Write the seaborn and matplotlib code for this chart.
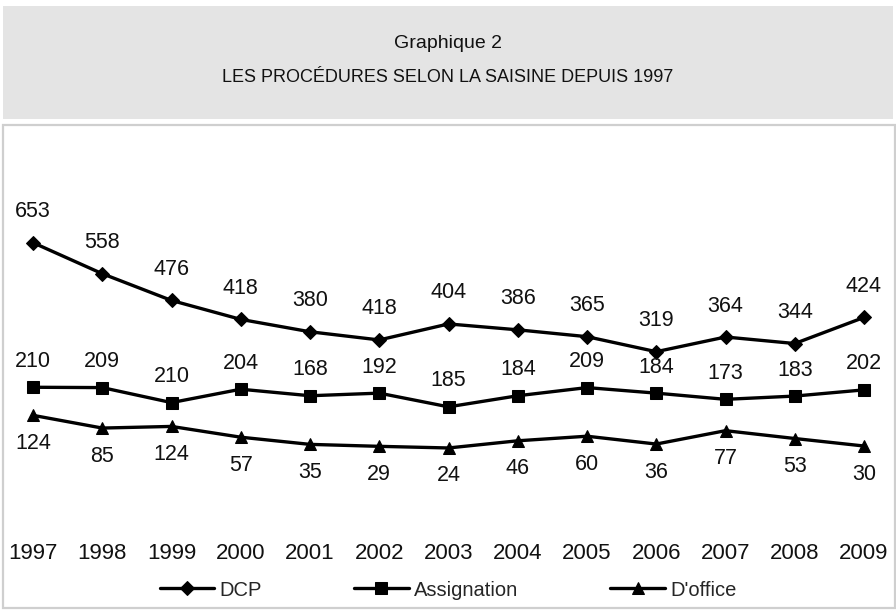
import matplotlib
matplotlib.use("Agg")
import matplotlib.pyplot as plt
from matplotlib.patches import Rectangle
import seaborn as sns
import pandas as pd

# Data
years = [1997, 1998, 1999, 2000, 2001, 2002, 2003, 2004, 2005, 2006, 2007, 2008, 2009]
# plotted positions (as drawn in the original)
dcp = [653, 558, 476, 418, 380, 355, 404, 386, 365, 319, 364, 344, 424]
assignation = [210, 209, 163, 204, 184, 192, 150, 184, 209, 192, 173, 183, 202]
doffice = [124, 85, 90, 57, 35, 29, 24, 46, 60, 36, 77, 53, 30]
# data labels as printed
dcp_labels = ["653", "558", "476", "418", "380", "418", "404", "386", "365", "319", "364", "344", "424"]
assignation_labels = ["210", "209", "210", "204", "168", "192", "185", "184", "209", "184", "173", "183", "202"]
doffice_labels = ["124", "85", "124", "57", "35", "29", "24", "46", "60", "36", "77", "53", "30"]

title_1 = "Graphique 2"
title_2 = "LES PROCÉDURES SELON LA SAISINE DEPUIS 1997"

sns.set_style("white")
plt.rcParams['font.family'] = ['Liberation Sans', 'DejaVu Sans']

W, H = 896, 610
fig = plt.figure(figsize=(W / 100, H / 100), dpi=100)

# grey header box
fig.add_artist(Rectangle((3 / W, 1 - 119 / H), 890 / W, 113 / H, zorder=-5,
                         transform=fig.transFigure, facecolor='#e4e4e4', edgecolor='none'))
# chart frame
fig.add_artist(Rectangle((3 / W, 1 - 608 / H), 892 / W, 483 / H, zorder=-5,
                         transform=fig.transFigure, facecolor='white', edgecolor='#cfcfcf', linewidth=1.6))

fig.text(0.5, 1 - 44 / H, title_1, ha='center', va='center', fontsize=14, color='#111111')
fig.text(0.5, 1 - 77 / H, title_2, ha='center', va='center', fontsize=13, color='#111111')

# axes placed so that 0 sits at y=456px and 1997..2009 span 33..864px
step = 69.25
left_px = 33 - 0.45 * step
ax = fig.add_axes([left_px / W, 1 - 455.8 / H, 12.9 * step / W, (700 / 3.064) / H])
ax.patch.set_alpha(0)

df = pd.DataFrame({'year': years, 'DCP': dcp, 'Assignation': assignation, "D'office": doffice})

sns.lineplot(data=df, x='year', y='DCP', ax=ax, color='black', linewidth=2.4,
             marker='D', markersize=7, markeredgecolor='black', label='DCP')
sns.lineplot(data=df, x='year', y='Assignation', ax=ax, color='black', linewidth=2.4,
             marker='s', markersize=9, markeredgecolor='black', label='Assignation')
sns.lineplot(data=df, x='year', y="D'office", ax=ax, color='black', linewidth=2.4,
             marker='^', markersize=8, markeredgecolor='black', label="D'office")

for yr, v, lab in zip(years, dcp, dcp_labels):
    ax.annotate(lab, (yr, v), xytext=(0, 31), textcoords='offset pixels',
                ha='center', va='center', fontsize=15.5, color='#111111')
for yr, v, lab in zip(years, assignation, assignation_labels):
    ax.annotate(lab, (yr, v), xytext=(0, 26), textcoords='offset pixels',
                ha='center', va='center', fontsize=15.5, color='#111111')
for yr, v, lab in zip(years, doffice, doffice_labels):
    ax.annotate(lab, (yr, v), xytext=(0, -28), textcoords='offset pixels',
                ha='center', va='center', fontsize=15.5, color='#111111')

ax.set_xlim(1997 - 0.45, 2009 + 0.45)
ax.set_ylim(0, 700)
ax.set_xticks(years)
ax.set_xticklabels([str(y) for y in years], fontsize=16, color='#111111')
ax.set_yticks([])
ax.tick_params(axis='x', length=0, pad=63)
ax.set_xlabel('')
ax.set_ylabel('')
sns.despine(ax=ax, left=True, bottom=True)

handles, labels = ax.get_legend_handles_labels()
ax.get_legend().remove()
fig.legend(handles, labels, loc='center', bbox_to_anchor=(0.5, 1 - 590 / H), ncol=3,
           frameon=False, fontsize=14.5, handlelength=2.7, handletextpad=0.25,
           columnspacing=4.6)

fig.savefig('out.png', dpi=100)
